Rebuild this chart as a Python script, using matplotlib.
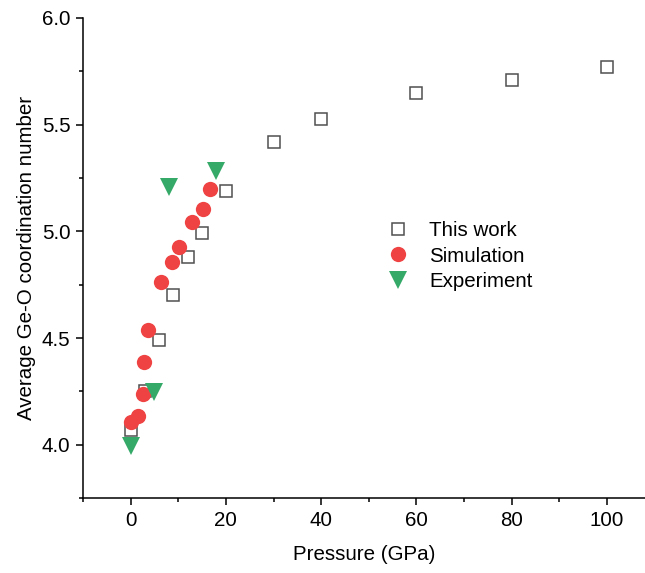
import matplotlib
matplotlib.use("Agg")
import matplotlib.pyplot as plt

plt.rcParams['font.family'] = ['Liberation Sans', 'DejaVu Sans']

# This work
work_p = [0, 3, 6, 9, 12, 15, 20, 30, 40, 60, 80, 100]
work_cn = [4.07, 4.25, 4.49, 4.70, 4.88, 4.99, 5.19, 5.42, 5.525, 5.65, 5.71, 5.77]
# Simulation
sim_p = [0.15, 1.6, 2.7, 2.9, 3.7, 6.3, 8.6, 10.2, 12.8, 15.1, 16.6]
sim_cn = [4.108, 4.136, 4.236, 4.388, 4.538, 4.762, 4.856, 4.925, 5.042, 5.105, 5.197]
# Experiment
exp_p = [0.0, 5.0, 8.0, 17.9]
exp_cn = [3.995, 4.245, 5.21, 5.285]

fs = 14.8

fig = plt.figure(figsize=(6.45, 5.73), dpi=100)
ax = fig.add_axes([83/645, 1-498/573, 1-83/645, (498-18)/573])

red = '#EF4343'
green = '#35A968'

ax.plot(work_p, work_cn, 's', ms=9, mfc='white', mec='#505050', mew=1.1,
        label='This work', zorder=2)
ax.plot(sim_p, sim_cn, 'o', ms=11, mfc=red, mec=red, mew=0,
        label='Simulation', zorder=3)
ax.plot(exp_p, exp_cn, 'v', ms=13, mfc=green, mec=green, mew=0,
        label='Experiment', zorder=4)

ax.set_xlim(-10, 108)
ax.set_ylim(3.75, 6.0)
ax.set_xticks([0, 20, 40, 60, 80, 100])
ax.set_xticks([-10, 10, 30, 50, 70, 90], minor=True)
ax.set_yticks([4.0, 4.5, 5.0, 5.5, 6.0])
ax.set_yticks([3.75, 4.25, 4.75, 5.25, 5.75], minor=True)
ax.set_yticklabels(['4.0', '4.5', '5.0', '5.5', '6.0'])

for s in ['top', 'right']:
    ax.spines[s].set_visible(False)
for s in ['left', 'bottom']:
    ax.spines[s].set_linewidth(1.1)

ax.tick_params(which='major', direction='out', length=5, width=1.1, labelsize=fs, pad=4)
ax.tick_params(which='minor', direction='out', length=3, width=1.1)

ax.set_xlabel('Pressure (GPa)', fontsize=fs, labelpad=11)
ax.set_ylabel('Average Ge-O coordination number', fontsize=fs, labelpad=4)

ax.legend(loc='center left', bbox_to_anchor=((388-83)/562, (498-256)/480),
          frameon=False, fontsize=fs, handlelength=1.0, handletextpad=1.0,
          borderpad=0, borderaxespad=0, labelspacing=0.33)

fig.savefig('out.png', dpi=100)
